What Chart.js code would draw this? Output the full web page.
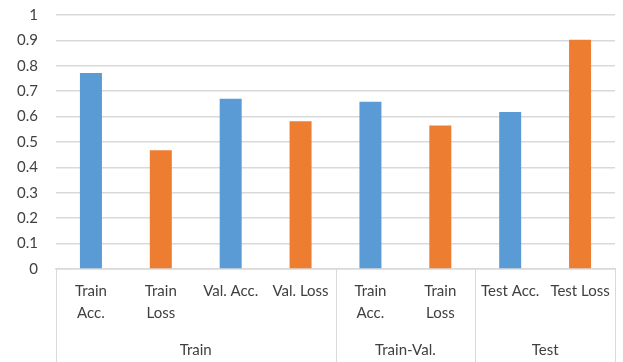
<!DOCTYPE html>
<html>
<head>
<meta charset="utf-8">
<script src="https://cdn.jsdelivr.net/npm/chart.js@4"></script>
<style>
  html, body { margin: 0; padding: 0; background: #fff; }
  #wrap { width: 623px; height: 362px; }
</style>
</head>
<body>
<div id="wrap"><canvas id="c" width="623" height="362"></canvas></div>
<script>
const categories = [["Train","Acc."],["Train","Loss"],"Val. Acc.","Val. Loss",["Train","Acc."],["Train","Loss"],"Test Acc.","Test Loss"];
const values = [0.772, 0.468, 0.670, 0.582, 0.658, 0.565, 0.618, 0.903];
const groups = ["Train", "Train-Val.", "Test"];
const groupSizes = [4, 2, 2];
const barColors = ["#5B9BD5","#ED7D31","#5B9BD5","#ED7D31","#5B9BD5","#ED7D31","#5B9BD5","#ED7D31"];
const yTicks = [0,0.1,0.2,0.3,0.4,0.5,0.6,0.7,0.8,0.9,1];

const FONT = "Lato, 'Open Sans', sans-serif";
const TXT = "#404040";
const GRID = "#D9D9D9";

// group centers and boundaries in category index units
const groupCenters = [];
const boundaries = [-0.5];
let start = 0;
groupSizes.forEach(n => {
  groupCenters.push(start + (n - 1) / 2);
  start += n;
  boundaries.push(start - 0.5);
});

const groupAxisPlugin = {
  id: 'groupAxis',
  afterDraw(chart) {
    const xs = chart.scales.x;
    const ctx = chart.ctx;
    const top = chart.chartArea.bottom;
    const bottom = chart.height;
    ctx.save();
    ctx.strokeStyle = GRID;
    ctx.lineWidth = 1;
    boundaries.forEach(b => {
      const px = Math.round(xs.getPixelForValue(b)) + 0.5;
      ctx.beginPath();
      ctx.moveTo(px, top);
      ctx.lineTo(px, bottom);
      ctx.stroke();
    });
    ctx.fillStyle = TXT;
    ctx.font = "15px " + FONT;
    ctx.textAlign = 'center';
    ctx.textBaseline = 'middle';
    groups.forEach((g, i) => {
      ctx.fillText(g, xs.getPixelForValue(groupCenters[i]), top + 81);
    });
    ctx.restore();
  }
};

new Chart(document.getElementById('c'), {
  type: 'bar',
  data: {
    labels: categories,
    datasets: [{
      data: values,
      backgroundColor: barColors,
      categoryPercentage: 1,
      barPercentage: 0.315
    }]
  },
  plugins: [groupAxisPlugin],
  options: {
    responsive: false,
    animation: false,
    devicePixelRatio: 1,
    layout: { padding: { top: 15, right: 8, left: 0, bottom: 0 } },
    plugins: { legend: { display: false }, tooltip: { enabled: false } },
    scales: {
      y: {
        min: 0, max: 1,
        afterBuildTicks(scale) { scale.ticks = yTicks.map(v => ({ value: v })); },
        afterFit(scale) { scale.width = 56; scale.paddingTop = 0; scale.paddingBottom = 0; },
        ticks: {
          color: TXT, padding: 18,
          font: { family: FONT, size: 15 },
          callback: v => String(v)
        },
        grid: { color: GRID, lineWidth: 1.5, drawTicks: false },
        border: { display: false }
      },
      x: {
        type: 'category',
        position: 'bottom',
        afterFit(scale) { scale.height = 93; },
        ticks: {
          color: TXT, padding: 12, autoSkip: false, maxRotation: 0, minRotation: 0,
          font: { family: FONT, size: 15, lineHeight: 1.42 }
        },
        grid: { display: false, drawTicks: false },
        border: { display: true, color: GRID, width: 1.5 }
      }
    }
  }
});
</script>
</body>
</html>
